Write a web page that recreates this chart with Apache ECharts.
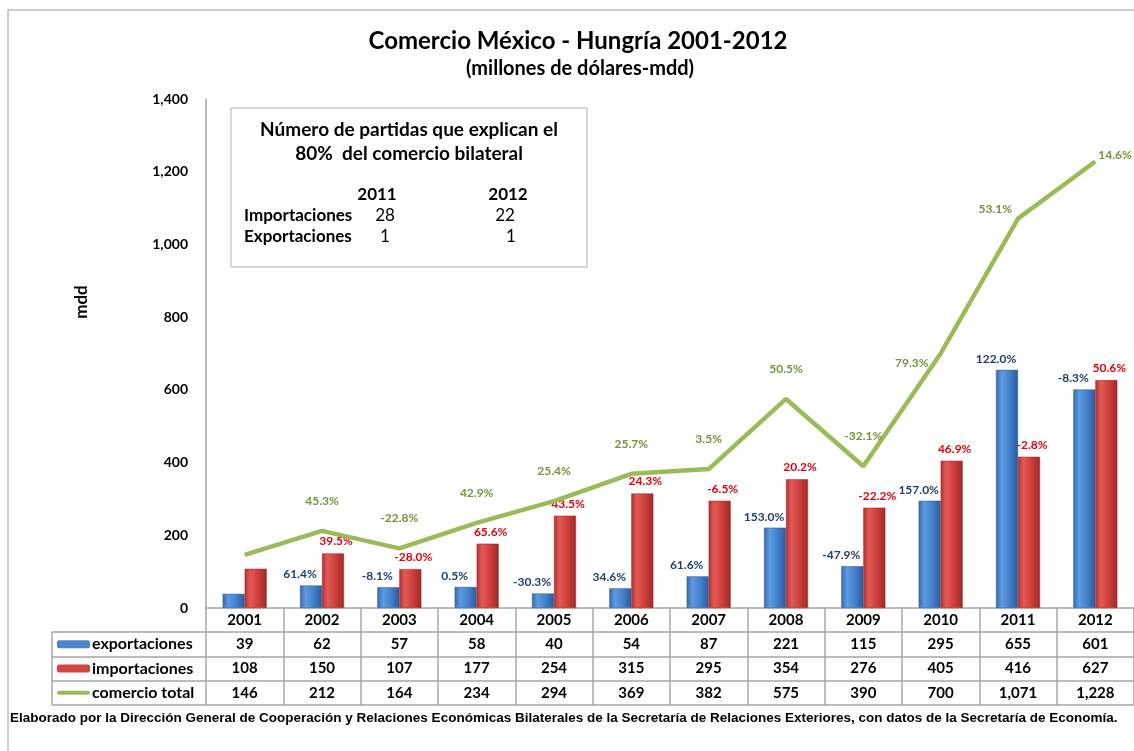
<!DOCTYPE html>
<html>
<head>
<meta charset="utf-8">
<script src="https://cdn.jsdelivr.net/npm/echarts@6.0.0/dist/echarts.min.js"></script>
<style>
  html, body { margin: 0; padding: 0; background: #fff; }
  #chart { width: 1134px; height: 751px; }
</style>
</head>
<body>
<div id="chart"></div>
<script>
// datos
var years = ['2001', '2002', '2003', '2004', '2005', '2006', '2007', '2008', '2009', '2010', '2011', '2012']
var exportaciones = [39, 62, 57, 58, 40, 54, 87, 221, 115, 295, 655, 601]
var importaciones = [108, 150, 107, 177, 254, 315, 295, 354, 276, 405, 416, 627]
var comercioTotal = [146, 212, 164, 234, 294, 369, 382, 575, 390, 700, 1071, 1228]
// variaciones anuales (%)
var expPct = [null, 61.4, -8.1, 0.5, -30.3, 34.6, 61.6, 153.0, -47.9, 157.0, 122.0, -8.3]
var impPct = [null, 39.5, -28.0, 65.6, 43.5, 24.3, -6.5, 20.2, -22.2, 46.9, -2.8, 50.6]
var totPct = [null, 45.3, -22.8, 42.9, 25.4, 25.7, 3.5, 50.5, -32.1, 79.3, 53.1, 14.6]
var yTicks = [0, 200, 400, 600, 800, 1000, 1200, 1400]
// recuadro de partidas
var boxYears = ['2011', '2012']
var boxImport = [28, 22]
var boxExport = [1, 1]
var rowNames = ['exportaciones', 'importaciones', 'comercio total']

var FONT = 'Lato'
var gridColor = '#a6a6a6'

function fmtPct (v) {
  return v === null ? '' : v.toFixed(1) + '%'
}

function fmtNum (v) {
  return v.toLocaleString('en-US')
}

function bold (size) {
  return 'bold ' + size + 'px ' + FONT
}

// posicion de etiquetas de la linea (movidas a mano como en el original)
function totLabel (i) {
  if (i === 9) return { position: 'left', distance: 12, offset: [0, 10] }
  if (i === 10) return { position: 'left', distance: 6, offset: [0, -9] }
  if (i === 11) return { position: 'right', distance: 3, offset: [0, -6] }
  return { position: 'top', distance: 24 }
}

var tableData = []
var rows = [exportaciones, importaciones, comercioTotal]
for (var r = 0; r < rows.length; r++) {
  for (var i = 0; i < years.length; i++) {
    tableData.push([i, r, rows[r][i]])
  }
}

var blueGrad = {
  type: 'linear', x: 0, y: 0, x2: 1, y2: 0,
  colorStops: [
    { offset: 0, color: '#3568ad' },
    { offset: 0.25, color: '#5d9ae0' },
    { offset: 0.6, color: '#4583cf' },
    { offset: 1, color: '#2c5a9a' }
  ]
}
var redGrad = {
  type: 'linear', x: 0, y: 0, x2: 1, y2: 0,
  colorStops: [
    { offset: 0, color: '#b3302d' },
    { offset: 0.25, color: '#e25a57' },
    { offset: 0.6, color: '#cf3f3c' },
    { offset: 1, color: '#9e2a27' }
  ]
}

var myChart = echarts.init(document.getElementById('chart'))

var option = {
  backgroundColor: '#fff',
  animation: false,
  title: [
    {
      text: 'Comercio México - Hungría 2001-2012',
      left: 573,
      top: 24,
      textAlign: 'center',
      textStyle: { fontFamily: FONT, fontWeight: 'bold', fontSize: 24, color: '#000' }
    },
    {
      text: '(millones de dólares-mdd)',
      left: 575,
      top: 54,
      textAlign: 'center',
      textStyle: { fontFamily: FONT, fontWeight: 'bold', fontSize: 20, color: '#000' }
    }
  ],
  grid: [
    { left: 206, right: 0, top: 99, height: 509 },
    { left: 206, right: 0, top: 632, height: 73 }
  ],
  xAxis: [
    {
      type: 'category',
      data: years,
      gridIndex: 0,
      axisLine: { lineStyle: { color: gridColor, width: 1.5 } },
      axisTick: { show: true, length: 24, inside: false, lineStyle: { color: gridColor, width: 1.5 } },
      axisLabel: { margin: 5, fontFamily: FONT, fontWeight: 'bold', fontSize: 15, color: '#000' },
      splitLine: { show: false }
    },
    {
      type: 'category',
      data: years,
      gridIndex: 1,
      axisLine: { show: false },
      axisTick: { show: false },
      axisLabel: { show: false },
      splitLine: { show: true, interval: 0, lineStyle: { color: gridColor, width: 1.5 } }
    }
  ],
  yAxis: [
    {
      type: 'value',
      gridIndex: 0,
      min: 0,
      max: 1400,
      interval: 200,
      axisLine: { show: true, lineStyle: { color: gridColor, width: 1.5 } },
      axisTick: { show: false },
      splitLine: { show: false },
      axisLabel: {
        margin: 18,
        fontFamily: FONT,
        fontWeight: 'bold',
        fontSize: 14,
        color: '#000',
        formatter: function (v) { return yTicks.indexOf(v) >= 0 ? fmtNum(v) : '' }
      }
    },
    {
      type: 'category',
      gridIndex: 1,
      data: rowNames,
      inverse: true,
      axisLine: { show: false },
      axisTick: { show: true, length: 154, interval: 0, lineStyle: { color: gridColor, width: 1.5 } },
      splitLine: { show: true, interval: 0, lineStyle: { color: gridColor, width: 1.5 } },
      axisLabel: {
        margin: 149,
        align: 'left',
        formatter: function (v, idx) {
          var key = ['b', 'r', 'g'][idx]
          return '{' + key + '|}{t|' + v + '}'
        },
        rich: {
          b: { width: 33, height: 8, backgroundColor: '#4a84cc', borderRadius: 2 },
          r: { width: 33, height: 8, backgroundColor: '#d04643', borderRadius: 2 },
          g: { width: 33, height: 4, backgroundColor: '#9bbb59', borderRadius: 2 },
          t: { fontFamily: FONT, fontWeight: 700, fontSize: 16, color: '#000', padding: [0, 0, 0, 2] }
        }
      }
    }
  ],
  series: [
    {
      name: 'exportaciones',
      type: 'bar',
      xAxisIndex: 0,
      yAxisIndex: 0,
      barWidth: 22,
      barGap: '0%',
      data: exportaciones,
      itemStyle: { color: blueGrad, borderColor: '#2d5b96', borderWidth: 0.5 },
      label: {
        show: true,
        position: 'top',
        distance: 5,
        offset: [-11, 0],
        fontFamily: FONT,
        fontWeight: 'bold',
        fontSize: 12,
        color: '#1f3f6e',
        formatter: function (p) { return fmtPct(expPct[p.dataIndex]) }
      },
      z: 3
    },
    {
      name: 'importaciones',
      type: 'bar',
      xAxisIndex: 0,
      yAxisIndex: 0,
      barWidth: 22,
      barGap: '0%',
      data: importaciones,
      itemStyle: { color: redGrad, borderColor: '#9a2b28', borderWidth: 0.5 },
      label: {
        show: true,
        position: 'top',
        distance: 6,
        offset: [3, 0],
        fontFamily: FONT,
        fontWeight: 'bold',
        fontSize: 12,
        color: '#e3000f',
        formatter: function (p) { return fmtPct(impPct[p.dataIndex]) }
      },
      z: 4
    },
    {
      name: 'comercio total',
      type: 'line',
      xAxisIndex: 0,
      yAxisIndex: 0,
      data: comercioTotal.map(function (v, i) {
        return { value: v, label: totLabel(i) }
      }),
      symbol: 'circle',
      symbolSize: 0,
      showSymbol: true,
      itemStyle: { color: '#9bbb59' },
      lineStyle: { color: '#9bbb59', width: 4.5 },
      label: {
        show: true,
        fontFamily: FONT,
        fontWeight: 'bold',
        fontSize: 12,
        color: '#77933c',
        formatter: function (p) { return fmtPct(totPct[p.dataIndex]) }
      },
      z: 5
    },
    {
      name: 'tabla',
      type: 'scatter',
      xAxisIndex: 1,
      yAxisIndex: 1,
      symbolSize: 0,
      data: tableData,
      itemStyle: { opacity: 1 },
      label: {
        show: true,
        position: 'inside',
        opacity: 1,
        fontFamily: FONT,
        fontWeight: 'bold',
        fontSize: 15,
        color: '#000',
        formatter: function (p) { return fmtNum(p.value[2]) }
      }
    }
  ],
  graphic: [
    // marco exterior
    {
      type: 'rect',
      shape: { x: 8, y: 10, width: 1300, height: 900 },
      style: { fill: null, stroke: '#bfbfbf', lineWidth: 1.5 },
      z: -1
    },
    // borde izquierdo de la tabla
    {
      type: 'line',
      shape: { x1: 52, y1: 632, x2: 52, y2: 705 },
      style: { stroke: gridColor, lineWidth: 1.5 }
    },
    // nombre del eje
    {
      type: 'text',
      x: 82,
      y: 302,
      rotation: Math.PI / 2,
      style: { text: 'mdd', font: bold(17), align: 'center', verticalAlign: 'middle', fill: '#000' }
    },
    // recuadro de partidas
    {
      type: 'group',
      x: 231,
      y: 108,
      z: 10,
      children: [
        {
          type: 'rect',
          shape: { x: 0, y: 0, width: 356, height: 159 },
          style: { fill: '#fff', stroke: '#b0b0b0', lineWidth: 1 }
        },
        {
          type: 'text',
          x: 178, y: 34,
          style: {
            text: 'Número de partidas que explican el\n80%  del comercio bilateral',
            font: bold(19), lineHeight: 24,
            align: 'center', verticalAlign: 'middle', fill: '#000'
          }
        },
        {
          type: 'text', x: 146, y: 87,
          style: { text: boxYears[0], font: bold(17), align: 'center', verticalAlign: 'middle', fill: '#000' }
        },
        {
          type: 'text', x: 277, y: 87,
          style: { text: boxYears[1], font: bold(17), align: 'center', verticalAlign: 'middle', fill: '#000' }
        },
        {
          type: 'text', x: 13, y: 108,
          style: { text: 'Importaciones', font: bold(17), align: 'left', verticalAlign: 'middle', fill: '#000' }
        },
        {
          type: 'text', x: 154, y: 108,
          style: { text: String(boxImport[0]), font: '17px ' + FONT, align: 'center', verticalAlign: 'middle', fill: '#000' }
        },
        {
          type: 'text', x: 274, y: 108,
          style: { text: String(boxImport[1]), font: '17px ' + FONT, align: 'center', verticalAlign: 'middle', fill: '#000' }
        },
        {
          type: 'text', x: 13, y: 129,
          style: { text: 'Exportaciones', font: bold(17), align: 'left', verticalAlign: 'middle', fill: '#000' }
        },
        {
          type: 'text', x: 154, y: 129,
          style: { text: String(boxExport[0]), font: '17px ' + FONT, align: 'center', verticalAlign: 'middle', fill: '#000' }
        },
        {
          type: 'text', x: 280, y: 129,
          style: { text: String(boxExport[1]), font: '17px ' + FONT, align: 'center', verticalAlign: 'middle', fill: '#000' }
        }
      ]
    },
    // fuente
    {
      type: 'text',
      x: 10,
      y: 718,
      style: {
        text: 'Elaborado por la Dirección General de Cooperación y Relaciones Económicas Bilaterales de la Secretaría de Relaciones Exteriores, con datos de la Secretaría de Economía.',
        font: 'bold 13.5px "Liberation Sans"',
        verticalAlign: 'middle',
        fill: '#000'
      }
    }
  ]
}

myChart.setOption(option)
window.onresize = myChart.resize
</script>
</body>
</html>
